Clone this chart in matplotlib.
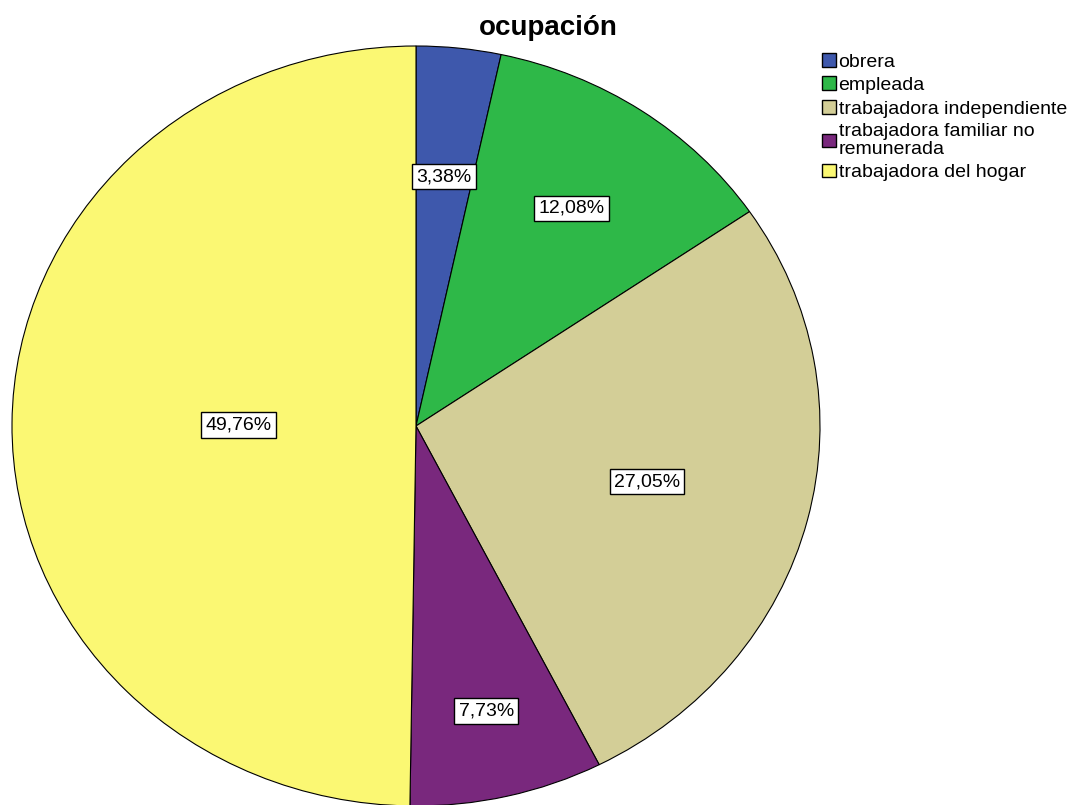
import numpy as np
import matplotlib.pyplot as plt
from matplotlib.patches import Patch

plt.rcParams['font.family'] = ['Liberation Sans', 'DejaVu Sans']

categories = ["obrera", "empleada", "trabajadora independiente",
              "trabajadora familiar no\nremunerada", "trabajadora del hogar"]
values = [3.38, 12.08, 27.05, 7.73, 49.76]
pct_labels = ["3,38%", "12,08%", "27,05%", "7,73%", "49,76%"]
colors = ["#3E58AC", "#2EB848", "#D3CE97", "#79287D", "#FBF873"]
label_r = [0.66, 0.69, 0.59, 0.77, 0.44]

fig = plt.figure(figsize=(10.68, 8.05), dpi=100)
ax = fig.add_axes([12 / 1068, -1 / 805, 808 / 1068, 760 / 805])

wedges, _ = ax.pie(values, colors=colors, startangle=90, counterclock=False,
                   wedgeprops=dict(edgecolor="black", linewidth=0.8))
ax.set_aspect("auto")
ax.set_xlim(-1, 1)
ax.set_ylim(-1, 1)

for w, lab, r in zip(wedges, pct_labels, label_r):
    ang = np.deg2rad((w.theta1 + w.theta2) / 2)
    ax.text(r * np.cos(ang), r * np.sin(ang), lab, ha="center", va="center",
            fontsize=14,
            bbox=dict(boxstyle="square,pad=0.22", facecolor="white",
                      edgecolor="black", linewidth=1))

fig.text(548 / 1068, 1 - 28 / 805, "ocupación", ha="center", va="center",
         fontsize=20, fontweight="bold")

handles = [Patch(facecolor=c, edgecolor="black", linewidth=1) for c in colors]
fig.legend(handles, categories, loc="upper left", bbox_to_anchor=(822 / 1068, 1 - 53 / 805),
           frameon=False, fontsize=14, handlelength=0.7, handleheight=0.7,
           handletextpad=0.15, labelspacing=0.3, borderpad=0, borderaxespad=0)
for t in fig.legends[0].get_texts():
    t.set_linespacing(1.05)

fig.savefig("out.png", dpi=100)
